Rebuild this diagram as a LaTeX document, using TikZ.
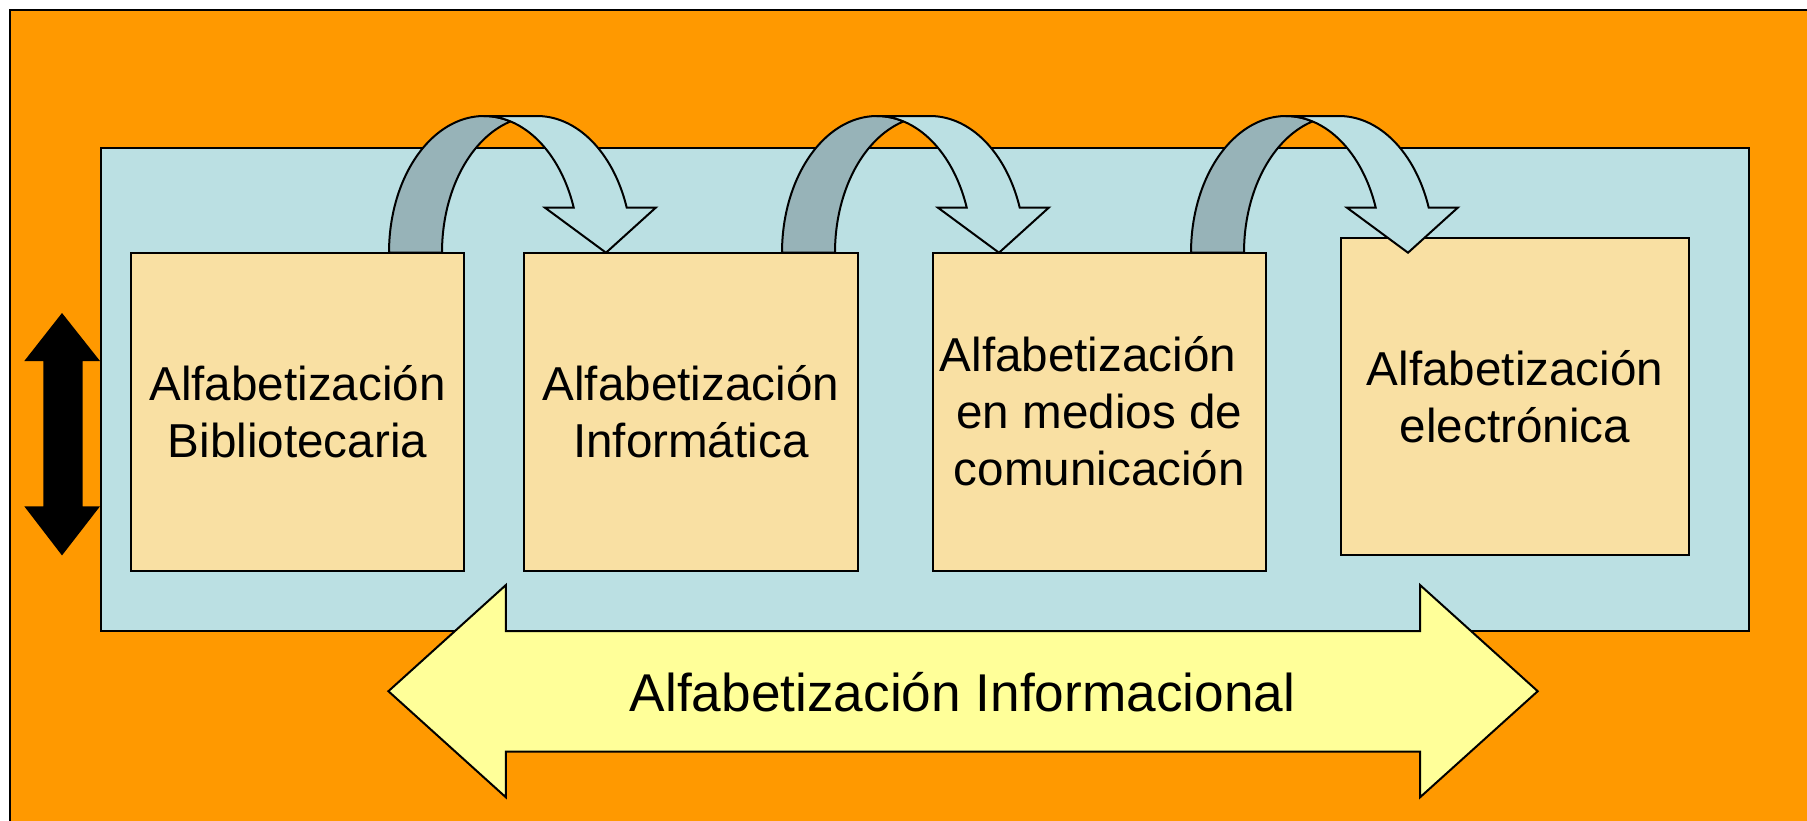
\documentclass[tikz,border=0pt]{standalone}
\usepackage{fontspec}
\setmainfont{Liberation Sans}
\definecolor{bgorange}{HTML}{FF9900}
\definecolor{panel}{HTML}{BBE0E3}
\definecolor{boxfill}{HTML}{F9E0A3}
\definecolor{bandback}{HTML}{97B3B8}
\definecolor{bigarrow}{HTML}{FFFF99}
\newcommand\curvedarrow[1]{%
  \begin{scope}[shift={(#1,0)}]
    \filldraw[fill=bandback, draw=black]
      plot[domain=180:286.2, samples=50] ({484+95*cos(\x)},{252.5+136.5*sin(\x)})
      -- plot[domain=253.8:180, samples=50] ({537+95*cos(\x)},{252.5+136.5*sin(\x)})
      -- cycle;
    \filldraw[fill=panel, draw=black]
      (484,116) -- (537,116)
      -- plot[domain=270:340.84, samples=50] ({537+95*cos(\x)},{252.5+136.5*sin(\x)})
      -- (655.7,207.7) -- (606,252.7) -- (545,207.7)
      -- plot[domain=340.84:270, samples=50] ({484+95*cos(\x)},{252.5+136.5*sin(\x)})
      -- cycle;
  \end{scope}}
\begin{document}
\begin{tikzpicture}[x=0.5pt, y=-0.5pt, line width=1pt,
  stagebox/.style={draw=black, fill=boxfill, inner sep=0pt, align=center,
    font=\fontsize{23.8}{28.5}\selectfont}]
\useasboundingbox (0,0) rectangle (1807,820);
\fill[white] (0,0) rectangle (1807,820);
\filldraw[fill=bgorange, draw=black] (10,10) rectangle (1840,850);
\filldraw[fill=panel, draw=black] (101,147.5) rectangle (1749.3,631);
% left double arrow
\fill[black] (62,313) -- (100,361) -- (82.7,361) -- (82.7,506.3) -- (100,506.3)
  -- (62,555.4) -- (24.3,506.3) -- (43.3,506.3) -- (43.3,361) -- (24.3,361) -- cycle;
% stage boxes
\node[stagebox, minimum width=333.5*0.5pt, minimum height=318*0.5pt] (b1) at (297.45,411.7)
  {Alfabetización\\Bibliotecaria};
\node[stagebox, minimum width=334*0.5pt, minimum height=318*0.5pt] (b2) at (690.8,411.7)
  {Alfabetización\\Informática};
\node[stagebox, minimum width=333.3*0.5pt, minimum height=318*0.5pt] (b3) at (1099.35,411.5)
  {Alfabetización\hspace*{11.5pt}\\en medios de\\comunicación};
\node[stagebox, minimum width=348.6*0.5pt, minimum height=317.3*0.5pt] (b4) at (1515,396.35)
  {Alfabetización\\electrónica};
% curved arrows
\curvedarrow{0}
\curvedarrow{393}
\curvedarrow{802}
% big double arrow
\filldraw[fill=bigarrow, draw=black] (388.4,691.2) -- (505.9,585) -- (505.9,631) -- (1420,631)
  -- (1420,585) -- (1537.7,691.2) -- (1420,797.3) -- (1420,751.5) -- (505.9,751.5)
  -- (505.9,797.3) -- cycle;
\node[font=\fontsize{26.6}{32}\selectfont, anchor=base, inner sep=0pt] (ai) at (962.5,711.7)
  {Alfabetización Informacional};
\end{tikzpicture}
\end{document}
